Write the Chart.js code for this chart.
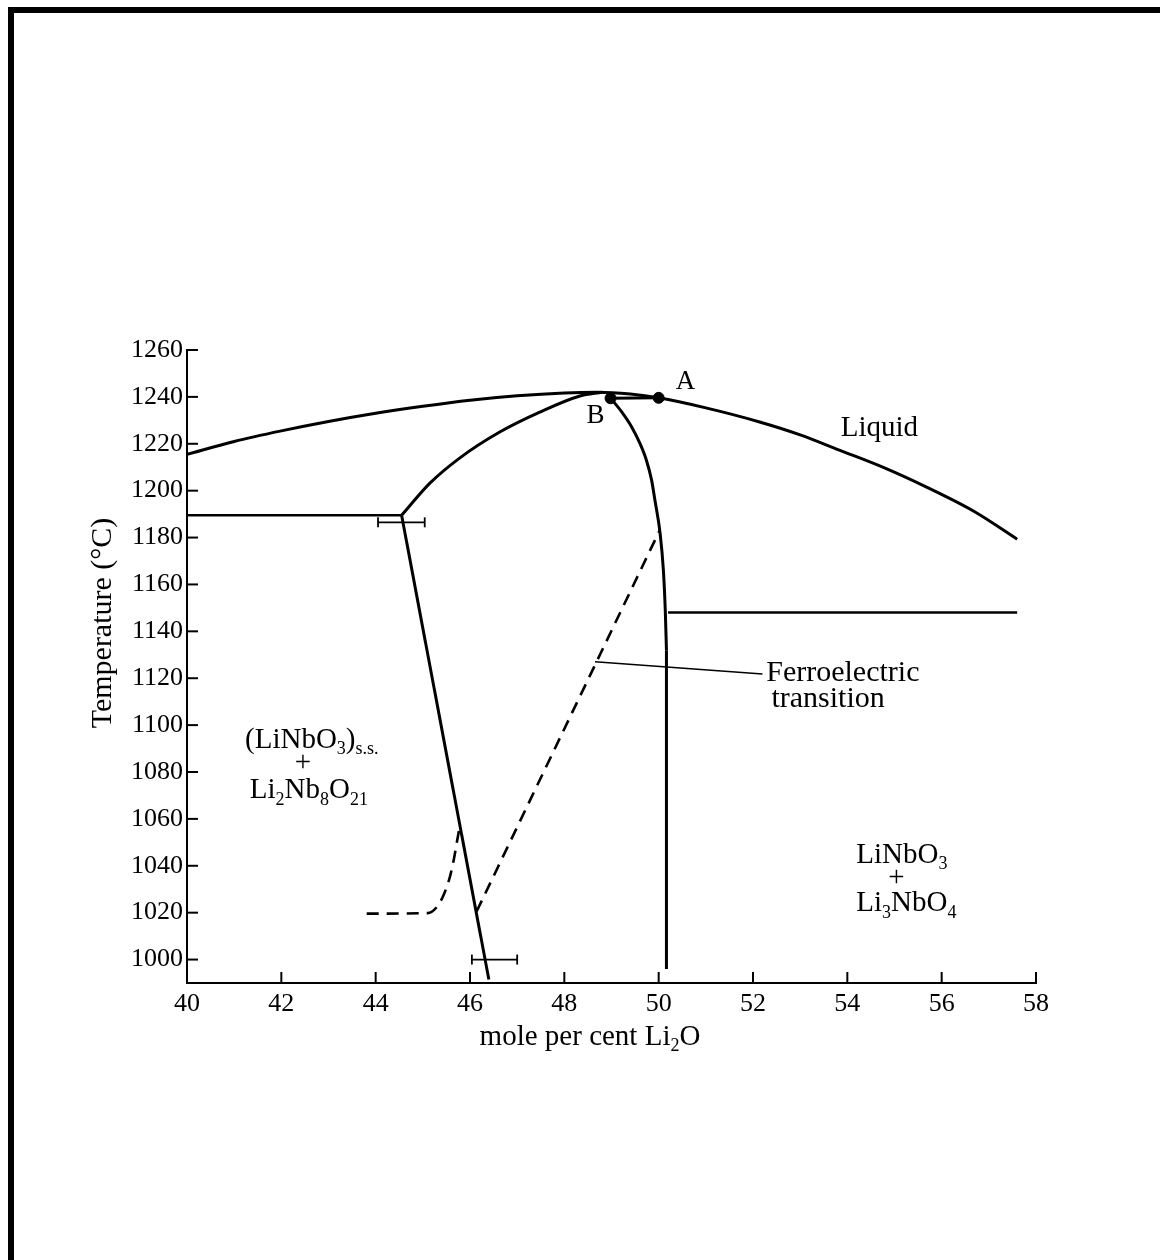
<!DOCTYPE html>
<html>
<head>
<meta charset="utf-8">
<script src="https://cdn.jsdelivr.net/npm/chart.js@4.4.0/dist/chart.umd.min.js"></script>
<style>
  html, body { margin: 0; padding: 0; background: #fff; }
  #wrap { position: relative; width: 1160px; height: 1260px; }
  #frameTop { position: absolute; left: 8px; top: 7px; width: 1152px; height: 6px; background: #000; }
  #frameLeft { position: absolute; left: 8px; top: 7px; width: 6px; height: 1253px; background: #000; }
  canvas { position: absolute; left: 0; top: 0; }
</style>
</head>
<body>
<div id="wrap">
  <canvas id="c" width="1160" height="1260"></canvas>
  <div id="frameTop"></div>
  <div id="frameLeft"></div>
</div>
<script>
// ---- Data (mole % Li2O, temperature °C) ----
const xTicks = [40, 42, 44, 46, 48, 50, 52, 54, 56, 58];
const yTicks = [1000, 1020, 1040, 1060, 1080, 1100, 1120, 1140, 1160, 1180, 1200, 1220, 1240, 1260];

const liquidusX = [40, 41, 42, 43, 44, 45, 46, 47, 48, 48.7, 49.4, 50, 51, 52.14, 53, 53.83, 54.8, 55.68, 56.7, 57.6];
const liquidusY = [1215.5, 1221, 1225.5, 1229.5, 1233, 1236, 1238.6, 1240.5, 1241.7, 1242, 1241.2, 1239.6, 1235.3, 1229.3, 1223.8, 1217.3, 1209.6, 1201.5, 1191, 1179.3];

const solidusLeftX = [44.55, 45.15, 45.78, 46.63, 47.48, 48.33, 48.8];
const solidusLeftY = [1189.5, 1203.2, 1213.9, 1225, 1233.5, 1240.4, 1242];

const solidusRightX = [48.98, 49.22, 49.43, 49.60, 49.74, 49.85, 49.92, 50.03, 50.10, 50.14, 50.165];
const solidusRightY = [1239.5, 1233.5, 1227.1, 1220.3, 1213.0, 1204.5, 1196.0, 1181.9, 1166.1, 1149.0, 1131.9];
const solidusRightTailX = [50.165, 50.165];
const solidusRightTailY = [1131.9, 996];

const tieLineX = [48.98, 50.0];
const tieLineY = [1239.4, 1239.6];

const eutecticLeftX = [40, 44.55];
const eutecticLeftY = [1189.5, 1189.5];

const phaseBoundaryX = [44.55, 46.4];
const phaseBoundaryY = [1189.5, 991.5];

const eutecticRightX = [50.2, 57.6];
const eutecticRightY = [1148, 1148];

const ferroLineX = [46.14, 50.02];
const ferroLineY = [1020.5, 1183];

const ferroCurveX = [43.81, 45.1, 45.3, 45.45, 45.57, 45.66, 45.73, 45.78];
const ferroCurveY = [1019.6, 1019.8, 1022.5, 1028, 1035, 1043, 1051, 1056.5];

const leaderX = [48.65, 52.2];
const leaderY = [1127, 1121.8];

const errBar1X = [44.05, 45.04];
const errBar1Y = [1186.5, 1186.5];
const errBar2X = [46.04, 47.0];
const errBar2Y = [1000, 1000];

const pointNames = ['A', 'B'];
const pointX = [50.0, 48.98];
const pointY = [1239.6, 1239.4];

// ---- helpers ----
const pts = (xs, ys) => xs.map((x, i) => ({ x: x, y: ys[i] }));
const SERIF = '"Liberation Serif", "DejaVu Serif", serif';

function lineDS(xs, ys, opts) {
  return Object.assign({
    type: 'scatter', data: pts(xs, ys), showLine: true, pointRadius: 0,
    borderColor: '#000', backgroundColor: '#000', borderWidth: 3, tension: 0, fill: false
  }, opts || {});
}
const SMOOTH = { cubicInterpolationMode: 'monotone', tension: 0.4 };

// text labels, positions given in data coordinates
const labels = [
  { segs: [['A']], x: 50.57, y: 1246.3, size: 27, align: 'center' },
  { segs: [['B']], x: 48.66, y: 1231.8, size: 27, align: 'center' },
  { segs: [['Liquid']], x: 54.68, y: 1226.7, size: 29, align: 'center' },
  { segs: [['Ferroelectric']], x: 52.28, y: 1122.1, size: 30, align: 'left' },
  { segs: [['transition']], x: 52.39, y: 1111.0, size: 30, align: 'left' },
  { segs: [['(LiNbO'], ['3', 'sub'], [')'], ['s.s.', 'sub']], x: 41.23, y: 1093.5, size: 29, align: 'left' },
  { segs: [['+']], x: 42.46, y: 1083.7, size: 29, align: 'center' },
  { segs: [['Li'], ['2', 'sub'], ['Nb'], ['8', 'sub'], ['O'], ['21', 'sub']], x: 41.33, y: 1072.1, size: 29, align: 'left' },
  { segs: [['LiNbO'], ['3', 'sub']], x: 54.19, y: 1044.4, size: 29, align: 'left' },
  { segs: [['+']], x: 55.04, y: 1034.6, size: 29, align: 'center' },
  { segs: [['Li'], ['3', 'sub'], ['NbO'], ['4', 'sub']], x: 54.19, y: 1023.9, size: 29, align: 'left' }
];

function drawRich(ctx, segs, px, py, size, align) {
  const subSize = Math.round(size * 0.62);
  let total = 0;
  const widths = segs.map(s => {
    ctx.font = (s[1] === 'sub' ? subSize : size) + 'px ' + SERIF;
    const w = ctx.measureText(s[0]).width;
    total += w;
    return w;
  });
  let x = align === 'center' ? px - total / 2 : px;
  ctx.textBaseline = 'middle';
  ctx.textAlign = 'left';
  ctx.fillStyle = '#000';
  segs.forEach((s, i) => {
    const sub = s[1] === 'sub';
    ctx.font = (sub ? subSize : size) + 'px ' + SERIF;
    ctx.fillText(s[0], x, py + (sub ? size * 0.32 : 0));
    x += widths[i];
  });
}

const decorPlugin = {
  id: 'decor',
  afterDatasetsDraw(chart) {
    const ctx = chart.ctx;
    const xs = chart.scales.x, ys = chart.scales.y;
    const area = chart.chartArea;
    ctx.save();
    ctx.strokeStyle = '#000';
    ctx.lineWidth = 2;
    // inward ticks on y axis
    yTicks.forEach(v => {
      const py = ys.getPixelForValue(v);
      ctx.beginPath(); ctx.moveTo(area.left, py); ctx.lineTo(area.left + 11, py); ctx.stroke();
    });
    // inward ticks on x axis
    xTicks.forEach(v => {
      const px = xs.getPixelForValue(v);
      ctx.beginPath(); ctx.moveTo(px, area.bottom); ctx.lineTo(px, area.bottom - 11); ctx.stroke();
    });
    // error bar caps
    ctx.lineWidth = 1.8;
    [[errBar1X, errBar1Y], [errBar2X, errBar2Y]].forEach(([bx, by]) => {
      bx.forEach((v, i) => {
        const px = xs.getPixelForValue(v), py = ys.getPixelForValue(by[i]);
        ctx.beginPath(); ctx.moveTo(px, py - 5); ctx.lineTo(px, py + 5); ctx.stroke();
      });
    });
    // labels
    labels.forEach(l => {
      drawRich(ctx, l.segs, xs.getPixelForValue(l.x), ys.getPixelForValue(l.y), l.size, l.align);
    });
    // axis titles
    drawRich(ctx, [['mole per cent Li'], ['2', 'sub'], ['O']], 590, area.bottom + 54, 29, 'center');
    ctx.save();
    ctx.translate(103, 623);
    ctx.rotate(-Math.PI / 2);
    drawRich(ctx, [['Temperature (°C)']], 0, 0, 30, 'center');
    ctx.restore();
    ctx.restore();
  }
};

const datasets = [
  lineDS(liquidusX, liquidusY, SMOOTH),
  lineDS(solidusLeftX, solidusLeftY, SMOOTH),
  lineDS(solidusRightX, solidusRightY, SMOOTH),
  lineDS(solidusRightTailX, solidusRightTailY),
  lineDS(tieLineX, tieLineY),
  lineDS(eutecticLeftX, eutecticLeftY, { borderWidth: 2.5 }),
  lineDS(phaseBoundaryX, phaseBoundaryY),
  lineDS(eutecticRightX, eutecticRightY, { borderWidth: 2.5 }),
  lineDS(ferroLineX, ferroLineY, { borderDash: [12, 8], borderWidth: 2.6 }),
  lineDS(ferroCurveX, ferroCurveY, Object.assign({ borderDash: [12, 8], borderWidth: 2.6 }, SMOOTH)),
  lineDS(leaderX, leaderY, { borderWidth: 1.6 }),
  lineDS(errBar1X, errBar1Y, { borderWidth: 1.8 }),
  lineDS(errBar2X, errBar2Y, { borderWidth: 1.8 }),
  { type: 'scatter', data: pts(pointX, pointY), showLine: false, pointRadius: 5.5,
    pointBackgroundColor: '#000', pointBorderColor: '#000', label: pointNames.join(',') }
];

new Chart(document.getElementById('c'), {
  type: 'scatter',
  data: { datasets: datasets },
  options: {
    responsive: false,
    animation: false,
    events: [],
    layout: { padding: { top: 350, left: 0, right: 124, bottom: 0 } },
    plugins: { legend: { display: false }, tooltip: { enabled: false } },
    scales: {
      x: {
        type: 'linear', min: 40, max: 58,
        afterBuildTicks: s => { s.ticks = xTicks.map(v => ({ value: v })); },
        afterFit: s => { s.height = 277; },
        grid: { display: true, drawOnChartArea: false, drawTicks: false },
        border: { display: true, color: '#000', width: 2 },
        ticks: { color: '#000', padding: 6, font: { family: SERIF, size: 26 }, callback: v => String(v) }
      },
      y: {
        type: 'linear', min: 990, max: 1260,
        afterBuildTicks: s => { s.ticks = yTicks.map(v => ({ value: v })); },
        afterFit: s => { s.width = 187; },
        grid: { display: true, drawOnChartArea: false, drawTicks: false },
        border: { display: true, color: '#000', width: 2 },
        ticks: { color: '#000', padding: 4, font: { family: SERIF, size: 26 }, callback: v => String(v) }
      }
    }
  },
  plugins: [decorPlugin]
});
</script>
</body>
</html>
